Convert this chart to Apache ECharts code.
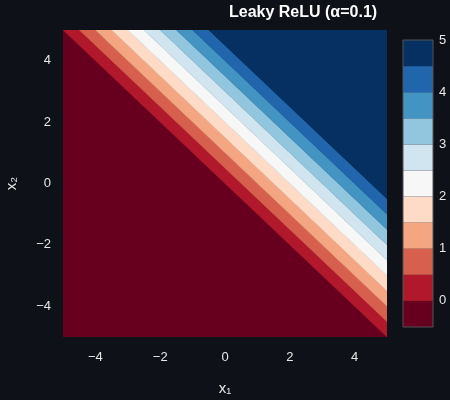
<!DOCTYPE html><html><head><meta charset="utf-8">
<script src="https://cdn.jsdelivr.net/npm/echarts@6/dist/echarts.min.js"></script>
<style>html,body{margin:0;background:#0e1117}#c{width:450px;height:400px}</style></head><body><div id="c"></div>
<script>
const alpha = 0.1;
const levels = [-0.5, 0, 0.5, 1, 1.5, 2, 2.5, 3, 3.5, 4, 4.5, 5];
const colors = ['#67001f','#b2182b','#d6604d','#f4a582','#fddbc7','#f7f7f7','#d1e5f0','#92c5de','#4393c3','#2166ac','#053061'];
const axisTicks = [-4, -2, 0, 2, 4];
const cbarTicks = [0, 1, 2, 3, 4, 5];
const xRange = [-5, 5], yRange = [-5, 5];
const title = 'Leaky ReLU (α=0.1)';

function inv(v){ return v >= 0 ? v : v / alpha; }
const bands = colors.map((c, i) => {
  let lo = i === 0 ? -1e3 : inv(levels[i]);
  let hi = i === colors.length - 1 ? 1e3 : inv(levels[i + 1]);
  return [lo, hi, i];
});
function clip(poly, f){
  const out = [];
  for (let i = 0; i < poly.length; i++) {
    const a = poly[i], b = poly[(i + 1) % poly.length];
    const fa = f(a), fb = f(b);
    if (fa >= 0) out.push(a);
    if ((fa >= 0) !== (fb >= 0)) { const t = fa / (fa - fb); out.push([a[0] + t * (b[0] - a[0]), a[1] + t * (b[1] - a[1])]); }
  }
  return out;
}
const fmt = v => String(v).replace('-', '−');
const sq = [[xRange[0], yRange[0]], [xRange[1], yRange[0]], [xRange[1], yRange[1]], [xRange[0], yRange[1]]];
const ch = echarts.init(document.getElementById('c'));
const lbl = {color: '#e8e8e8', fontSize: 13, fontFamily: 'Liberation Sans', formatter: fmt};
const axCommon = {
  axisLine: {show: false}, splitLine: {show: false},
  axisTick: {show: true, length: 4, lineStyle: {color: '#555'}}
};
ch.setOption({
  backgroundColor: '#0e1117',
  title: {text: title, left: 224, top: 0, textStyle: {color: '#fff', fontSize: 16, fontWeight: 'bold', fontFamily: 'Liberation Sans'}},
  grid: [{left: 63, right: 63, top: 30, bottom: 63, outerBoundsMode: 'none', containLabel: false},
         {left: 403, width: 30, top: 40, height: 287, outerBoundsMode: 'none', containLabel: false}],
  xAxis: [
    Object.assign({}, axCommon, {gridIndex: 0, type: 'value', min: xRange[0], max: xRange[1], axisLabel: Object.assign({}, lbl, {customValues: axisTicks, margin: 14}), axisTick: Object.assign({}, axCommon.axisTick, {customValues: axisTicks}),
      name: 'x₁', nameLocation: 'middle', nameGap: 44, nameTextStyle: {color: '#e8e8e8', fontSize: 15, fontFamily: 'Liberation Sans'}}),
    {gridIndex: 1, type: 'value', min: 0, max: 1, show: false}
  ],
  yAxis: [
    Object.assign({}, axCommon, {gridIndex: 0, type: 'value', min: yRange[0], max: yRange[1], axisLabel: Object.assign({}, lbl, {customValues: axisTicks, margin: 12}), axisTick: Object.assign({}, axCommon.axisTick, {customValues: axisTicks}),
      name: 'x₂', nameLocation: 'middle', nameGap: 44, nameTextStyle: {color: '#e8e8e8', fontSize: 15, fontFamily: 'Liberation Sans'}}),
    Object.assign({}, axCommon, {gridIndex: 1, type: 'value', position: 'right', min: levels[0], max: levels[levels.length - 1],
      axisLabel: Object.assign({}, lbl, {customValues: cbarTicks, margin: 6}), axisTick: {show: false}})
  ],
  series: [
    {type: 'custom', xAxisIndex: 0, yAxisIndex: 0, data: bands, clip: true,
      renderItem: (params, api) => {
        const lo = api.value(0), hi = api.value(1), i = api.value(2);
        let p = clip(sq, q => q[0] + q[1] - lo);
        p = clip(p, q => hi - (q[0] + q[1]));
        if (p.length < 3) return null;
        return {type: 'polygon', shape: {points: p.map(q => api.coord(q))}, style: {fill: colors[i], stroke: colors[i], lineWidth: 0.5}};
      }},
    {type: 'custom', xAxisIndex: 1, yAxisIndex: 1, data: colors.map((c, i) => [levels[i], levels[i + 1], i]),
      renderItem: (params, api) => {
        const a = api.coord([0, api.value(0)]), b = api.coord([1, api.value(1)]);
        return {type: 'rect', shape: {x: a[0], y: b[1], width: b[0] - a[0], height: a[1] - b[1]}, style: {fill: colors[api.value(2)]}};
      }},
    {type: 'custom', xAxisIndex: 1, yAxisIndex: 1, data: [[0]], z: 5,
      renderItem: (params, api) => {
        const a = api.coord([0, levels[0]]), b = api.coord([1, levels[levels.length - 1]]);
        return {type: 'rect', shape: {x: a[0], y: b[1], width: b[0] - a[0], height: a[1] - b[1]}, style: {fill: 'none', stroke: '#555', lineWidth: 1}};
      }}
  ]
});
</script></body></html>
